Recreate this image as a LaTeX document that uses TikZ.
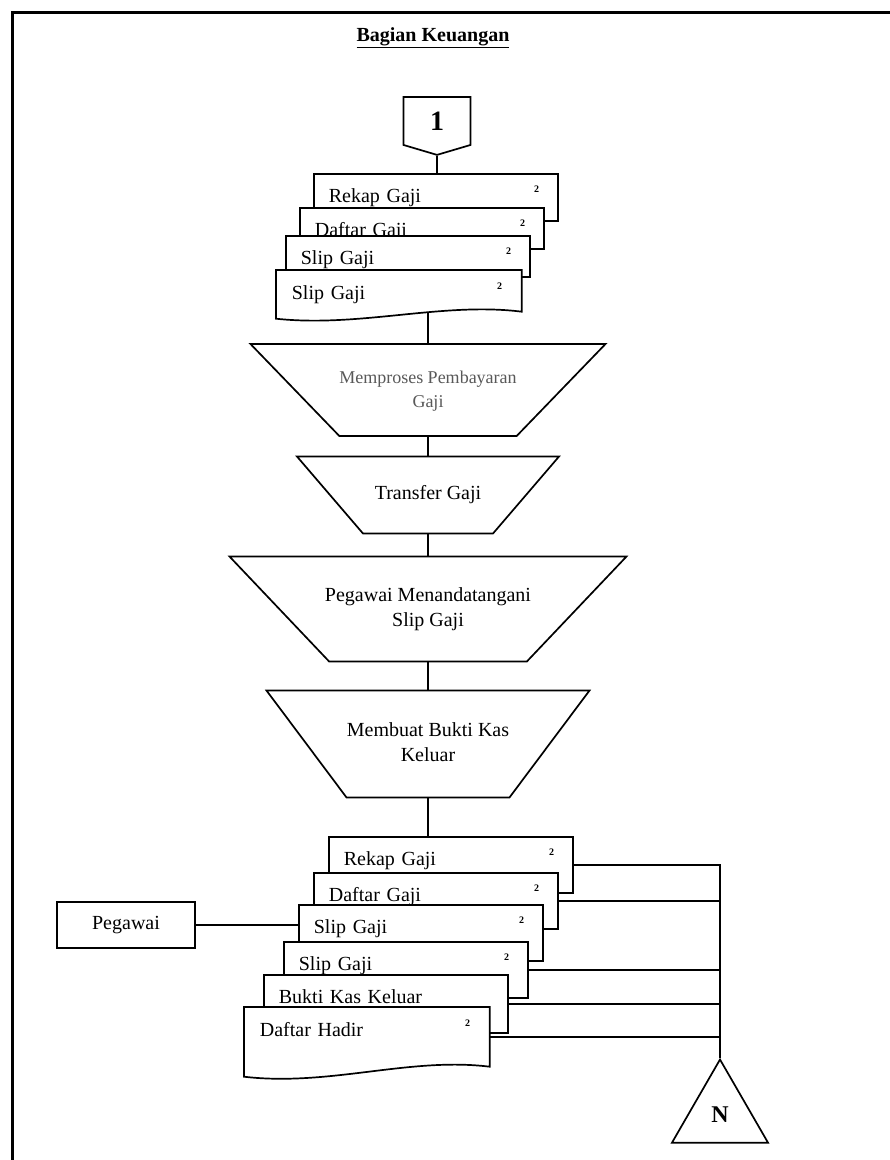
\documentclass[tikz,border=0pt]{standalone}
\usepackage{fontspec}
\setmainfont{Liberation Serif}
\usetikzlibrary{shapes.geometric,shapes.symbols}

\newcommand{\ctext}[1]{\makebox[0pt]{\begin{tabular}{@{}c@{}}#1\end{tabular}}}

\begin{document}
\begin{tikzpicture}[x=1pt, y=-1pt, line width=1.7pt,
    font=\fontsize{20}{25}\selectfont,
    doc/.style={draw, fill=white, rectangle, anchor=north west, inner xsep=15pt, inner ysep=0pt,
      text width=214pt, align=left, minimum height=#1, text height=29pt, text depth=#1pt-29pt},
    frontdoc/.style={doc=#1, draw=none},
    two/.style={label={[font=\bfseries\fontsize{10}{10}\selectfont, inner sep=0pt, anchor=center,
      xshift=-22pt, yshift=-16pt]north east:2}},
    process/.style={trapezium, draw, fill=white, shape border rotate=180,
      trapezium stretches body, inner sep=0pt, minimum height=#1,
      text height=0.5*#1pt+5pt, text depth=0.5*#1pt-5pt}]
  \clip (0,0) rectangle (890,1160);
  \useasboundingbox (0,0) rectangle (890,1160);
  \draw[line width=3pt] (12,1170) -- (12,12) -- (900,12);

  \node[font=\bfseries\fontsize{20}{24}\selectfont] (title) at (433,38) {\underline{Bagian Keuangan}};

  \node[signal, signal to=south, signal from=nowhere, signal pointer angle=147, draw,
    minimum width=67, minimum height=50, inner sep=0pt,
    font=\bfseries\fontsize{28}{28}\selectfont] (con1) at (437,121) {1};

  % dokumen masuk
  \node[doc=47, two] (rekapA) at (313,173) {Rekap Gaji};
  \node[doc=41, two] (daftarA) at (299,207) {Daftar Gaji};
  \node[doc=41, two] (slipA) at (285,235) {Slip Gaji};
  \node[frontdoc=40, two] (slipB) at (276,270) {Slip Gaji};
  \draw ([yshift=-7pt]slipB.south west) -- (slipB.north west) -- (slipB.north east) -- (slipB.south east)
    .. controls +(-79,-10) and +(84,9) .. ([yshift=-7pt]slipB.south west) -- cycle;

  % proses
  \node[process=92, minimum width=355, trapezium angle=46,
    text=black!65, font=\fontsize{18}{24}\selectfont] (proc1) at (428,390)
    {\ctext{Memproses Pembayaran\\Gaji}};
  \node[process=77, minimum width=262, trapezium angle=49.4] (proc2) at (428,495)
    {\ctext{Transfer Gaji}};
  \node[process=105, minimum width=397, trapezium angle=46.5] (proc3) at (428,609)
    {\ctext{Pegawai Menandatangani\\Slip Gaji}};
  \node[process=107, minimum width=323, trapezium angle=53.2] (proc4) at (428,744)
    {\ctext{Membuat Bukti Kas\\Keluar}};

  % dokumen keluar
  \node[doc=56, two] (rekapB) at (328,836) {Rekap Gaji};
  \node[doc=56, two] (daftarB) at (313,872) {Daftar Gaji};
  \node[doc=56, two] (slipC) at (298,904) {Slip Gaji};
  \node[doc=56, two] (slipD) at (283,941) {Slip Gaji};
  \node[doc=58] (bukti) at (263,974) {Bukti Kas Keluar};
  \node[frontdoc=58, two] (hadir) at (244,1007) {Daftar Hadir};
  \draw ([yshift=-10pt]hadir.south west) -- (hadir.north west) -- (hadir.north east) -- (hadir.south east)
    .. controls +(-80,-10) and +(85,10) .. ([yshift=-10pt]hadir.south west) -- cycle;

  \node[draw, minimum width=138, minimum height=46] (pegawai) at (126,925) {Pegawai};

  \node[regular polygon, regular polygon sides=3, draw, minimum size=111, inner sep=0pt,
    font=\bfseries\fontsize{24}{24}\selectfont] (endN) at (720,1115) {N};

  \draw (con1.south) -- (con1.south |- rekapA.north);
  \draw (proc1.north |- slipB.south) -- (proc1.north);
  \draw (proc1.south) -- (proc2.north);
  \draw (proc2.south) -- (proc3.north);
  \draw (proc3.south) -- (proc4.north);
  \draw (proc4.south) -- (proc4.south |- rekapB.north);
  \draw (pegawai.east) -- (pegawai.east -| slipC.west);
  \draw (rekapB.east) -| (endN.north);
  \draw (daftarB.east) -- (daftarB.east -| endN.north);
  \draw (slipD.east) -- (slipD.east -| endN.north);
  \draw (bukti.east) -- (bukti.east -| endN.north);
  \draw (hadir.east) -- (hadir.east -| endN.north);
\end{tikzpicture}
\end{document}
